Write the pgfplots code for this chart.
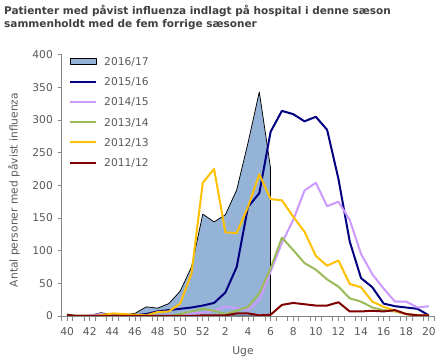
\documentclass[border=0pt]{standalone}
\usepackage{pgfplots}
\pgfplotsset{compat=1.18}
\usepackage{fontspec}
\setmainfont{DejaVu Sans}
\definecolor{areafill}{HTML}{95B3D7}
\definecolor{cnavy}{HTML}{000080}
\definecolor{clav}{HTML}{CC99FF}
\definecolor{cgreen}{HTML}{9BBB59}
\definecolor{cgold}{HTML}{FFC000}
\definecolor{cred}{HTML}{800000}
\definecolor{axiscol}{HTML}{868686}
\definecolor{labcol}{HTML}{595959}
\definecolor{titlecol}{HTML}{404040}
\pgfplotsset{
  linelegend/.style={legend image code/.code={\draw[##1] (0bp,0bp) -- (26bp,0bp);}},
  arealegend/.style={legend image code/.code={\draw[##1] (0bp,-3bp) rectangle (26bp,3bp);}},
}
\begin{document}
\begin{tikzpicture}
\useasboundingbox (0,0) rectangle (440bp,363bp);
\node[anchor=base west, align=left, font=\fontsize{10.5bp}{12.3bp}\selectfont\bfseries, text=titlecol, inner sep=0pt] at (4bp,335.7bp) {Patienter med påvist influenza indlagt på hospital i denne sæson\\sammenholdt med de fem forrige sæsoner};
\begin{axis}[
  at={(61.5bp,47bp)}, anchor=south west, scale only axis,
  width=373bp, height=261.3bp,
  xmin=-0.5, xmax=32.5, ymin=0, ymax=400,
  axis lines=left, axis line style={-, draw=axiscol, line width=0.75bp},
  tick align=outside,
  /pgf/number format/assume math mode=true,
  ytick={0,50,...,400},
  ytick style={draw=axiscol, line width=0.75bp, /pgfplots/major tick length=4bp},
  yticklabel style={anchor=east, inner sep=0pt, xshift=-4.2bp, text=labcol, font=\fontsize{10.7bp}{12bp}\selectfont},
  xtick={-0.5,0.5,...,32.5},
  xticklabels={},
  xtick style={draw=axiscol, line width=0.75bp, /pgfplots/major tick length=5bp},
  extra x ticks={0,2,...,32},
  extra x tick labels={40,42,44,46,48,50,52,2,4,6,8,10,12,14,16,18,20},
  extra x tick style={/pgfplots/major tick length=0pt, grid=none,
     xticklabel style={anchor=center, inner sep=0pt, yshift=-15.7bp, text=labcol, font=\fontsize{10.7bp}{12bp}\selectfont}},
  legend cell align=left,
  legend style={at={(axis description cs:0,1)}, anchor=north west, draw=none, fill=none,
     inner sep=0pt, xshift=7.5bp, yshift=-2.4bp, row sep=12.5bp, column sep=7bp,
     font=\fontsize{10.7bp}{12bp}\selectfont, text=labcol,
     nodes={inner sep=0pt, text height=7.8bp, text depth=0pt}},
  line join=round,
]
\addplot[fill=areafill, draw=black, line width=0.75bp, arealegend]
  coordinates {(0,3)(1,0)(2,1)(3,5)(4,2)(5,2)(6,4)(7,14)(8,12)(9,19)(10,38)(11,75)(12,156)(13,144)(14,155)(15,193)(16,265)(17,343)(18,226)} \closedcycle;
\addlegendentry{2016/17}
\addplot[cnavy, line width=2bp, linelegend]
  coordinates {(0,0)(1,0)(2,0)(3,0)(4,0)(5,1)(6,1)(7,3)(8,7)(9,9)(10,11)(11,13)(12,16)(13,20)(14,36)(15,75)(16,167)(17,188)(18,282)(19,314)(20,309)(21,298)(22,305)(23,285)(24,210)(25,114)(26,58)(27,44)(28,19)(29,15)(30,13)(31,11)(32,1)};
\addlegendentry{2015/16}
\addplot[clav, line width=2bp, linelegend]
  coordinates {(0,0)(1,0)(2,1)(3,3)(4,1)(5,1)(6,0)(7,0)(8,0)(9,1)(10,2)(11,4)(12,5)(13,8)(14,14)(15,12)(16,9)(17,25)(18,68)(19,112)(20,147)(21,192)(22,204)(23,168)(24,175)(25,147)(26,95)(27,64)(28,42)(29,22)(30,22)(31,13)(32,15)};
\addlegendentry{2014/15}
\addplot[cgreen, line width=2bp, linelegend]
  coordinates {(0,0)(1,0)(2,0)(3,0)(4,0)(5,0)(6,0)(7,0)(8,0)(9,0)(10,3)(11,7)(12,11)(13,8)(14,3)(15,8)(16,14)(17,35)(18,73)(19,120)(20,101)(21,81)(22,71)(23,56)(24,45)(25,27)(26,22)(27,13)(28,9)(29,7)(30,3)(31,1)(32,1)};
\addlegendentry{2013/14}
\addplot[cgold, line width=2bp, linelegend]
  coordinates {(0,0)(1,0)(2,0)(3,1)(4,4)(5,3)(6,2)(7,1)(8,6)(9,7)(10,19)(11,65)(12,204)(13,225)(14,128)(15,127)(16,167)(17,217)(18,179)(19,177)(20,152)(21,129)(22,92)(23,77)(24,85)(25,49)(26,44)(27,22)(28,14)(29,8)(30,3)(31,1)(32,1)};
\addlegendentry{2012/13}
\addplot[cred, line width=2bp, linelegend]
  coordinates {(0,1)(1,0)(2,0)(3,0)(4,0)(5,0)(6,0)(7,0)(8,0)(9,0)(10,0)(11,0)(12,1)(13,1)(14,1)(15,4)(16,4)(17,1)(18,2)(19,17)(20,20)(21,18)(22,16)(23,16)(24,21)(25,7)(26,7)(27,8)(28,7)(29,9)(30,3)(31,1)(32,1)};
\addlegendentry{2011/12}
\end{axis}
\node[anchor=center, text=labcol, font=\fontsize{10.7bp}{12bp}\selectfont, inner sep=0pt] at (243bp,11.3bp) {Uge};
\node[anchor=center, rotate=90, text=labcol, font=\fontsize{10.7bp}{12bp}\selectfont, inner sep=0pt] at (14bp,173bp) {Antal personer med påvist influenza};
\end{tikzpicture}
\end{document}
